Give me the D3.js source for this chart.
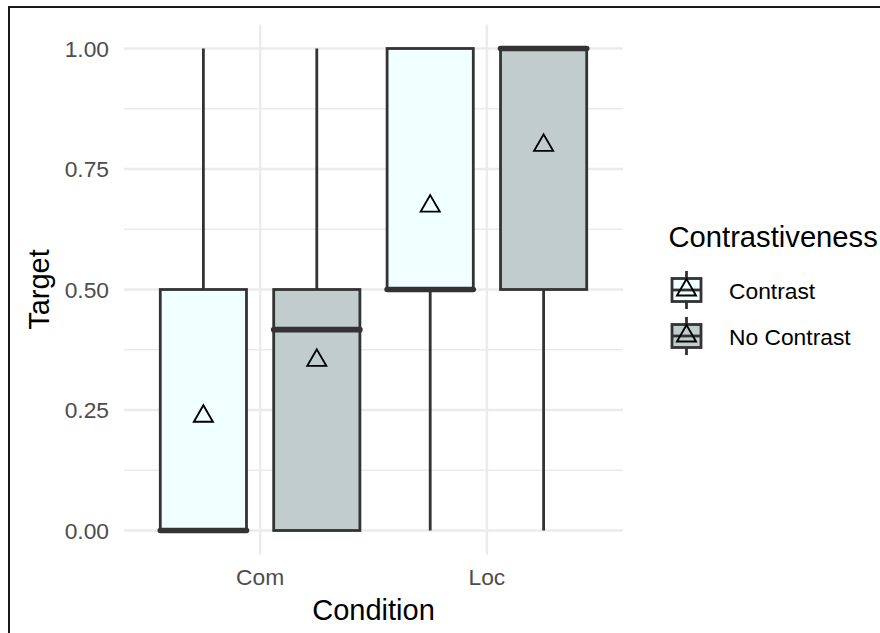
<!DOCTYPE html>
<html>
<head>
<meta charset="utf-8">
<script src="https://cdn.jsdelivr.net/npm/d3@7"></script>
<style>
  html, body { margin: 0; padding: 0; background: #fff; }
  svg { display: block; font-family: "Liberation Sans", Arial, Helvetica, sans-serif; }
</style>
</head>
<body>
<svg id="chart" width="880" height="633"></svg>
<script>
// Conditions on the x axis, contrastiveness groups dodged within each
const conditions = ["Com", "Loc"];
const groups = ["Contrast", "No Contrast"];
const groupFill = ["#F0FFFF", "#C1CDCD"];

// Box statistics per condition, in group order: [Contrast, No Contrast]
const whiskerLow = [[0, 0], [0, 0]];
const q1 = [[0, 0], [0.5, 0.5]];
const median = [[0, 0.4167], [0.5, 1.0]];
const q3 = [[0.5, 0.5], [1.0, 1.0]];
const whiskerHigh = [[1.0, 1.0], [1.0, 1.0]];
const means = [[0.237, 0.353], [0.673, 0.799]];

const yTicks = [0, 0.25, 0.5, 0.75, 1.0];
const yMinorTicks = [0.125, 0.375, 0.625, 0.875];

const svg = d3.select("#chart");

// outer frame
svg.append("rect")
  .attr("x", 9).attr("y", 7).attr("width", 900).attr("height", 660)
  .attr("fill", "none").attr("stroke", "#1a1a1a").attr("stroke-width", 2);

// panel extent
const panel = { left: 124, right: 623, top: 24.4, bottom: 554.6 };

const x = d3.scalePoint().domain(conditions)
  .range([panel.left, panel.right]).padding(0.6);
const step = x.step();
const xInner = d3.scaleBand().domain(groups)
  .range([-step / 2, step / 2]).paddingInner(0.24).paddingOuter(0.12);
const boxW = xInner.bandwidth();

const y = d3.scaleLinear().domain([0, 1]).range([530.5, 48.5]);

const grid = svg.append("g");
grid.selectAll("line.minor").data(yMinorTicks).join("line")
  .attr("x1", panel.left).attr("x2", panel.right)
  .attr("y1", d => y(d)).attr("y2", d => y(d))
  .attr("stroke", "#EBEBEB").attr("stroke-width", 1.3);
grid.selectAll("line.major").data(yTicks).join("line")
  .attr("x1", panel.left).attr("x2", panel.right)
  .attr("y1", d => y(d)).attr("y2", d => y(d))
  .attr("stroke", "#EBEBEB").attr("stroke-width", 2.4);
grid.selectAll("line.vmajor").data(conditions).join("line")
  .attr("x1", d => x(d)).attr("x2", d => x(d))
  .attr("y1", panel.top).attr("y2", panel.bottom)
  .attr("stroke", "#EBEBEB").attr("stroke-width", 2.4);

// y axis labels
svg.append("g").selectAll("text").data(yTicks).join("text")
  .attr("x", 109).attr("y", d => y(d) + 8.2)
  .attr("text-anchor", "end").attr("font-size", 22.8).attr("fill", "#4D4D4D")
  .text(d => d3.format(".2f")(d));

// x axis labels
svg.append("g").selectAll("text").data(conditions).join("text")
  .attr("x", d => x(d)).attr("y", 585)
  .attr("text-anchor", "middle").attr("font-size", 22.8).attr("fill", "#4D4D4D")
  .text(d => d);

// axis titles
svg.append("text")
  .attr("x", (panel.left + panel.right) / 2).attr("y", 619.5)
  .attr("text-anchor", "middle").attr("font-size", 29).attr("fill", "#000")
  .text("Condition");
svg.append("text")
  .attr("transform", `translate(49,${(panel.top + panel.bottom) / 2}) rotate(-90)`)
  .attr("text-anchor", "middle").attr("font-size", 29).attr("fill", "#000")
  .text("Target");

// boxes
const boxData = [];
conditions.forEach((c, i) => groups.forEach((g, j) => boxData.push({
  cond: c, group: g, gi: j,
  lo: whiskerLow[i][j], q1: q1[i][j], med: median[i][j], q3: q3[i][j],
  hi: whiskerHigh[i][j], mean: means[i][j]
})));
const cx = d => x(d.cond) + xInner(d.group) + boxW / 2;

const tri = R => `M0,${-R}L${R * Math.cos(Math.PI / 6)},${R / 2}L${-R * Math.cos(Math.PI / 6)},${R / 2}Z`;

const boxes = svg.append("g").selectAll("g").data(boxData).join("g");
boxes.append("line")
  .attr("x1", cx).attr("x2", cx).attr("y1", d => y(d.q3)).attr("y2", d => y(d.hi))
  .attr("stroke", "#333333").attr("stroke-width", 2.8);
boxes.append("line")
  .attr("x1", cx).attr("x2", cx).attr("y1", d => y(d.q1)).attr("y2", d => y(d.lo))
  .attr("stroke", "#333333").attr("stroke-width", 2.8);
boxes.append("rect")
  .attr("x", d => cx(d) - boxW / 2).attr("width", boxW)
  .attr("y", d => y(d.q3)).attr("height", d => y(d.q1) - y(d.q3))
  .attr("fill", d => groupFill[d.gi]).attr("stroke", "#333333").attr("stroke-width", 2.8);
boxes.append("line")
  .attr("x1", d => cx(d) - boxW / 2).attr("x2", d => cx(d) + boxW / 2)
  .attr("y1", d => y(d.med)).attr("y2", d => y(d.med))
  .attr("stroke", "#333333").attr("stroke-width", 5.6).attr("stroke-linecap", "round");

// means
svg.append("g").selectAll("path").data(boxData).join("path")
  .attr("transform", d => `translate(${cx(d)},${y(d.mean)})`)
  .attr("d", tri(11)).attr("fill", "none").attr("stroke", "#000").attr("stroke-width", 1.9);

// legend
const legend = svg.append("g");
legend.append("text").attr("x", 668.5).attr("y", 247)
  .attr("font-size", 29.2).attr("fill", "#000").text("Contrastiveness");
const keyY = d3.scalePoint().domain(groups).range([290, 336]);
const keyX = 686.5;
const keys = legend.selectAll("g.key").data(groups).join("g")
  .attr("transform", d => `translate(${keyX},${keyY(d)})`);
keys.append("line").attr("x1", 0).attr("x2", 0).attr("y1", -19).attr("y2", 19)
  .attr("stroke", "#333333").attr("stroke-width", 2.8);
keys.append("rect").attr("x", -14.5).attr("y", -11.5).attr("width", 29).attr("height", 23)
  .attr("fill", (d, i) => groupFill[i]).attr("stroke", "#333333").attr("stroke-width", 2.8);
keys.append("line").attr("x1", -14.5).attr("x2", 14.5).attr("y1", 0).attr("y2", 0)
  .attr("stroke", "#333333").attr("stroke-width", 2.8);
keys.append("path").attr("d", tri(11)).attr("fill", "none")
  .attr("stroke", "#000").attr("stroke-width", 1.9);
legend.selectAll("text.lab").data(groups).join("text")
  .attr("x", 729).attr("y", d => keyY(d) + 9)
  .attr("font-size", 22.8).attr("fill", "#000").text(d => d);
</script>
</body>
</html>
